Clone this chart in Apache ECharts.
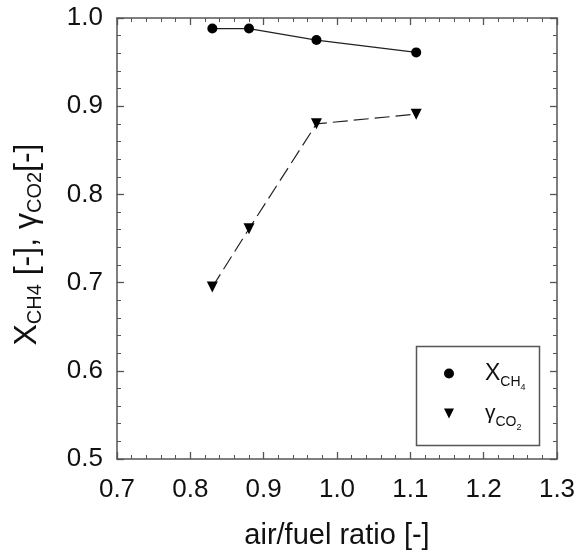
<!DOCTYPE html>
<html>
<head>
<meta charset="utf-8">
<script src="https://cdn.jsdelivr.net/npm/echarts@6/dist/echarts.min.js"></script>
<style>html,body{margin:0;padding:0;background:#fff;}#c{width:580px;height:551px;}</style>
</head>
<body>
<div id="c"></div>
<script>
var xCH4 = [[0.830, 0.988], [0.880, 0.988], [0.972, 0.975], [1.108, 0.961]];
var yCO2 = [[0.830, 0.695], [0.880, 0.761], [0.972, 0.880], [1.108, 0.891]];
var xTicks = [0.7, 0.8, 0.9, 1.0, 1.1, 1.2, 1.3];
var yTicks = [0.5, 0.6, 0.7, 0.8, 0.9, 1.0];
var seriesNames = ['XCH4', 'gCO2'];

var FONT = 'Liberation Sans, Arial, sans-serif';
var AX = '#555';
var chart = echarts.init(document.getElementById('c'), null, {renderer: 'canvas'});

function axisCommon(min, max, show) {
  return {
    type: 'value', min: min, max: max, interval: 0.1,
    axisLine: {show: true, onZero: false, lineStyle: {color: AX, width: 1.5}},
    axisTick: {show: true, inside: true, length: 7, lineStyle: {color: AX, width: 1.3}},
    minorTick: {show: true, splitNumber: 5, length: 4, lineStyle: {color: AX, width: 1}},
    splitLine: {show: false},
    axisLabel: {show: show}
  };
}

var xMain = axisCommon(xTicks[0], xTicks[xTicks.length - 1], true);
xMain.position = 'bottom';
xMain.axisLabel = {show: true, margin: 18, color: '#111', fontSize: 26, fontFamily: FONT,
  formatter: function (v) { return v.toFixed(1); }};
xMain.name = 'air/fuel ratio [-]';
xMain.nameLocation = 'middle';
xMain.nameGap = 62;
xMain.nameTextStyle = {color: '#111', fontSize: 29, fontFamily: FONT};

var xTop = axisCommon(xTicks[0], xTicks[xTicks.length - 1], false);
xTop.position = 'top';

var yMain = axisCommon(yTicks[0], yTicks[yTicks.length - 1], true);
yMain.position = 'left';
yMain.axisLabel = {show: true, margin: 14, color: '#111', fontSize: 26, fontFamily: FONT,
  formatter: function (v) { return v.toFixed(1); }};
yMain.name = '{m|X}{s|CH4}{m| [-], γ}{s|CO2}{m|[-]}';
yMain.nameLocation = 'middle';
yMain.nameGap = 72;
yMain.nameTextStyle = {
  color: '#111', fontFamily: FONT,
  padding: [0, 12, 0, 0],
  rich: {
    m: {fontSize: 32, fontFamily: FONT, color: '#111'},
    s: {fontSize: 20, fontFamily: FONT, color: '#111', padding: [16, 0, 0, 0]}
  }
};

var yRight = axisCommon(yTicks[0], yTicks[yTicks.length - 1], false);
yRight.position = 'right';

var legendRich = {
  m: {fontSize: 23, fontFamily: FONT, color: '#111'},
  g: {fontSize: 21, fontFamily: FONT, color: '#111'},
  s: {fontSize: 14, fontFamily: FONT, color: '#111', padding: [18, 0, 0, 0]},
  ss: {fontSize: 9, fontFamily: FONT, color: '#111', padding: [28, 0, 0, 0]}
};

var option = {
  animation: false,
  backgroundColor: '#fff',
  grid: {left: 117, right: 23, top: 18, bottom: 92, containLabel: false, outerBoundsMode: 'none'},
  xAxis: [xMain, xTop],
  yAxis: [yMain, yRight],
  legend: {
    orient: 'vertical',
    left: 439, top: 357,
    itemWidth: 10, itemHeight: 10,
    itemGap: 11,
    data: [
      {name: seriesNames[0], icon: 'circle'},
      {name: seriesNames[1], icon: 'path://M0,0 L10,0 L5,10 Z'}
    ],
    formatter: function (n) {
      return n === seriesNames[0] ? '{m|X}{s|CH}{ss|4}' : '{g|γ}{s|CO}{ss|2}';
    },
    textStyle: {padding: [0, 0, 0, 26], rich: legendRich}
  },
  graphic: [{
    type: 'rect', left: 414, top: 344,
    shape: {width: 123, height: 99},
    style: {fill: 'none', stroke: '#555', lineWidth: 1.5},
    z: 1
  }],
  series: [
    {
      name: seriesNames[0], type: 'line', data: xCH4,
      symbol: 'circle', symbolSize: 10,
      itemStyle: {color: '#000'},
      lineStyle: {color: '#222', width: 1.2}
    },
    {
      name: seriesNames[1], type: 'line', data: yCO2,
      symbol: 'triangle', symbolRotate: 180, symbolSize: 11,
      itemStyle: {color: '#000'},
      lineStyle: {color: '#222', width: 1.2, type: [15, 6]}
    }
  ]
};
chart.setOption(option);
</script>
</body>
</html>
